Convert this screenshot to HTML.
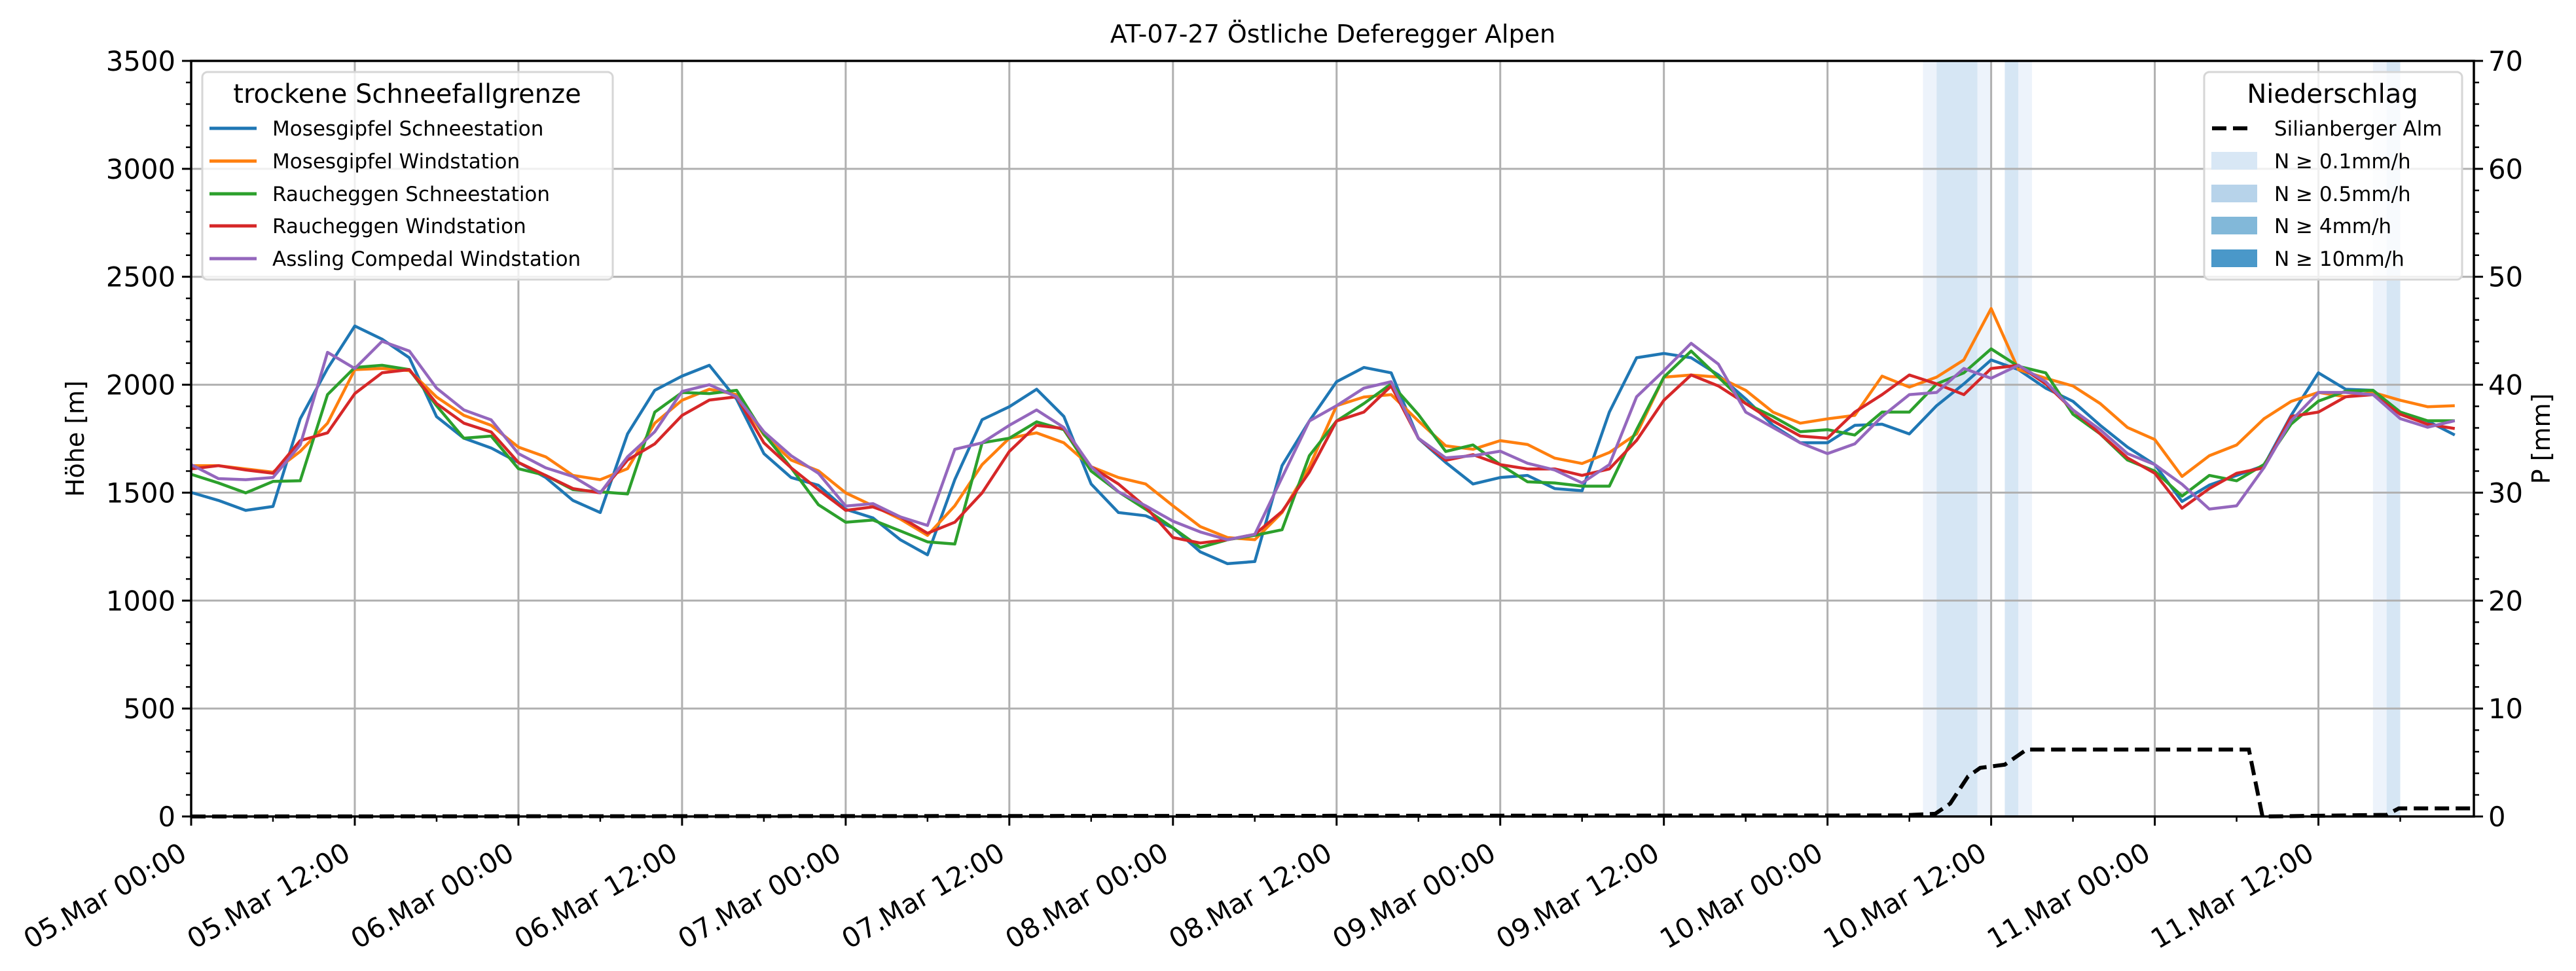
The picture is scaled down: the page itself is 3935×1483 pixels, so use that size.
<!DOCTYPE html>
<html><head><meta charset="utf-8"><style>
html,body{margin:0;padding:0;background:#fff;}
svg{display:block;font-family:"DejaVu Sans","Liberation Sans",sans-serif;}
</style></head><body>
<svg id="chart" width="3935" height="1483" viewBox="0 0 3935 1483" xmlns="http://www.w3.org/2000/svg">
<rect x="0" y="0" width="3935" height="1483" fill="#fff"/>
<g id="bands"></g><g id="grid"></g><g id="series"></g><g id="axes"></g><g id="legends"></g>
</svg>
<script>
// ---- data (2-hourly, hours since 05.Mar 00:00) ----
const hourStep = 2;
const blue   = [1501,1464,1418,1436,1842,2075,2272,2211,2125,1852,1752,1707,1640,1570,1464,1408,1772,1974,2040,2090,1933,
                1681,1570,1534,1423,1383,1282,1212,1560,1838,1898,1979,1853,1540,1408,1393,1337,1226,1171,1181,1625,1832,
                2014,2080,2055,1751,1640,1540,1570,1580,1519,1509,1873,2125,2145,2125,2045,1934,1812,1731,1731,1812,1817,
                1772,1903,2004,2115,2070,1984,1923,1812,1711,1630,1459,1535,1580,1625,1858,2055,1979,1974,1873,1832,1767];
const orange = [1625,1625,1610,1595,1691,1822,2070,2075,2065,1943,1858,1812,1711,1666,1580,1560,1611,1822,1928,1979,1954,
                1767,1651,1601,1499,1439,1378,1302,1439,1630,1752,1777,1731,1620,1570,1540,1439,1343,1292,1282,1408,1620,
                1903,1943,1954,1832,1717,1701,1741,1723,1660,1635,1686,1772,2035,2045,2035,1974,1873,1822,1842,1858,2040,
                1989,2035,2115,2353,2070,2030,1994,1913,1802,1746,1575,1671,1721,1842,1923,1964,1944,1964,1928,1898,1903];
const green  = [1585,1545,1499,1552,1555,1954,2080,2090,2070,1903,1752,1762,1611,1580,1514,1504,1494,1873,1964,1959,1974,
                1772,1615,1444,1363,1373,1323,1272,1262,1731,1752,1828,1792,1600,1504,1423,1337,1246,1282,1302,1328,1671,
                1832,1913,2004,1862,1691,1721,1630,1550,1545,1530,1530,1792,2035,2156,2035,1913,1853,1782,1792,1767,1873,
                1873,2004,2055,2166,2085,2055,1863,1772,1651,1600,1484,1580,1555,1630,1818,1924,1970,1974,1873,1833,1833];
const red    = [1610,1625,1605,1590,1741,1777,1959,2055,2070,1913,1822,1781,1640,1580,1519,1499,1651,1726,1858,1929,1944,
                1731,1615,1514,1418,1434,1388,1312,1363,1499,1691,1812,1797,1620,1540,1434,1292,1267,1282,1307,1413,1595,
                1832,1873,1994,1752,1650,1676,1630,1610,1610,1580,1610,1742,1928,2045,1994,1913,1832,1762,1752,1873,1954,
                2045,2004,1954,2075,2090,2004,1883,1772,1661,1590,1428,1519,1590,1615,1853,1873,1944,1954,1863,1817,1797];
const purple = [1630,1565,1560,1570,1721,2150,2075,2201,2156,1984,1883,1837,1681,1615,1575,1499,1666,1782,1969,2000,1944,
                1782,1671,1590,1438,1449,1388,1348,1701,1731,1812,1883,1802,1620,1504,1439,1368,1318,1282,1307,1570,1832,
                1903,1984,2014,1752,1661,1671,1692,1636,1605,1545,1630,1944,2065,2192,2095,1873,1802,1731,1681,1726,1853,
                1954,1964,2075,2030,2090,2014,1883,1792,1681,1630,1539,1424,1439,1615,1833,1964,1964,1954,1843,1803,1833];
const seriesNames = ["Mosesgipfel Schneestation","Mosesgipfel Windstation","Raucheggen Schneestation","Raucheggen Windstation","Assling Compedal Windstation"];
const precipHours = [0,125.3,127.9,129,130.3,131.2,133,134.6,150.9,151.9,161,161.9,167.4];
const precipVals  = [0,0.1,0.25,1.2,3.7,4.5,4.8,6.2,6.2,0,0.15,0.75,0.75];
const bandStart = [127,128,131,133,134,160,161];
const bandEnd   = [128,131,132,134,135,161,162];
const bandLevel = [0,1,0,1,0,0,1];
const xTickLabels = ["05.Mar 00:00","05.Mar 12:00","06.Mar 00:00","06.Mar 12:00","07.Mar 00:00","07.Mar 12:00","08.Mar 00:00","08.Mar 12:00","09.Mar 00:00","09.Mar 12:00","10.Mar 00:00","10.Mar 12:00","11.Mar 00:00","11.Mar 12:00"];
const yTicks = [0,500,1000,1500,2000,2500,3000,3500];
const pTicks = [0,10,20,30,40,50,60,70];

// ---- geometry ----
const X0=292,X1=3779,Y0=93,Y1=1247,HMAX=167.4,YMAX=3500,PMAX=70;
const xs=h=>X0+(X1-X0)*h/HMAX;
const ys=v=>Y1-(Y1-Y0)*v/YMAX;
const ps=v=>Y1-(Y1-Y0)*v/PMAX;
const NS="http://www.w3.org/2000/svg";
function mk(tag,attrs,parent,txt){const e=document.createElementNS(NS,tag);for(const k in attrs)e.setAttribute(k,attrs[k]);if(txt!==undefined)e.textContent=txt;parent.appendChild(e);return e;}
const G=id=>document.getElementById(id);

// bands
const bandColors=["#edf3fb","#d6e6f4"];
bandStart.forEach((s,i)=>{
  const r=mk('rect',{x:xs(s),y:Y0,width:xs(bandEnd[i])-xs(s),height:Y1-Y0,fill:bandColors[bandLevel[i]]},G('bands'));
  
  
});
// grid
for(let i=0;i<xTickLabels.length;i++){
  const l=mk('line',{x1:xs(i*12),x2:xs(i*12),y1:Y0,y2:Y1,stroke:'#b0b0b0','stroke-width':3},G('grid'));
  
  
}
yTicks.forEach(v=>{
  const l=mk('line',{x1:X0,x2:X1,y1:ys(v),y2:ys(v),stroke:'#b0b0b0','stroke-width':3},G('grid'));
  
  
});
// series
const colors=["#1f77b4","#ff7f0e","#2ca02c","#d62728","#9467bd"];
const allSeries=[blue,orange,green,red,purple];
const seriesKeys=["series-moses-schnee","series-moses-wind","series-rauch-schnee","series-rauch-wind","series-assling-wind"];
allSeries.forEach((arr,si)=>{
  const pts=arr.map((v,i)=>xs(i*hourStep).toFixed(1)+','+ys(v).toFixed(1)).join(' ');
  const p=mk('polyline',{points:pts,fill:'none',stroke:colors[si],'stroke-width':4.5,'stroke-linejoin':'round'},G('series'));
  
  
});
const pp=precipHours.map((h,i)=>xs(h).toFixed(1)+','+ps(precipVals[i]).toFixed(1)).join(' ');
const pl=mk('polyline',{points:pp,fill:'none',stroke:'#000','stroke-width':6,'stroke-dasharray':'22,10'},G('series'));



// axes
const A=G('axes');
mk('rect',{x:X0,y:Y0,width:X1-X0,height:Y1-Y0,fill:'none',stroke:'#000','stroke-width':3.5},A);
yTicks.forEach(v=>{
  mk('line',{x1:X0-14,x2:X0,y1:ys(v),y2:ys(v),stroke:'#000','stroke-width':3},A);
  const t=mk('text',{x:X0-24,y:ys(v)+15,'text-anchor':'end','font-size':41.7},A,String(v));
  
  
});
for(let v=100;v<YMAX;v+=100){ if(v%500) mk('line',{x1:X0-8,x2:X0,y1:ys(v),y2:ys(v),stroke:'#000','stroke-width':2.5},A); }
pTicks.forEach(v=>{
  mk('line',{x1:X1,x2:X1+14,y1:ps(v),y2:ps(v),stroke:'#000','stroke-width':3},A);
  const t=mk('text',{x:X1+22,y:ps(v)+15,'text-anchor':'start','font-size':41.7},A,String(v));
  
  
});
for(let v=2;v<PMAX;v+=2){ if(v%10) mk('line',{x1:X1,x2:X1+8,y1:ps(v),y2:ps(v),stroke:'#000','stroke-width':2.5},A); }
xTickLabels.forEach((lab,i)=>{
  const x=xs(i*12);
  mk('line',{x1:x,x2:x,y1:Y1,y2:Y1+14,stroke:'#000','stroke-width':3},A);
  const t=mk('text',{x:x-4,y:Y1+64,'text-anchor':'end','font-size':41.7,transform:`rotate(-30 ${x-4} ${Y1+64})`},A,lab);
  
  
});
for(let h=6;h<HMAX;h+=12) mk('line',{x1:xs(h),x2:xs(h),y1:Y1,y2:Y1+8,stroke:'#000','stroke-width':2.5},A);
</script>
<svg style="position:absolute;left:0;top:0" width="3935" height="1483" xmlns="http://www.w3.org/2000/svg" font-family="DejaVu Sans, Liberation Sans, sans-serif">
<text x="2036" y="65" text-anchor="middle" font-size="38">AT-07-27 Östliche Deferegger Alpen</text>
<text x="128" y="670" text-anchor="middle" font-size="38" transform="rotate(-90 128 670)">Höhe [m]</text>
<text x="3895" y="670" text-anchor="middle" font-size="38" transform="rotate(-90 3895 670)">P [mm]</text>
<g>
<rect x="309" y="110" width="627" height="317" rx="8" fill="#fff" fill-opacity="0.8" stroke="#d6d6d6" stroke-width="3"/>
<text x="622" y="157" text-anchor="middle" font-size="40">trockene Schneefallgrenze</text>
<line x1="320" x2="392" y1="196" y2="196" stroke="#1f77b4" stroke-width="5"/><text x="416" y="207" font-size="31">Mosesgipfel Schneestation</text>
<line x1="320" x2="392" y1="246" y2="246" stroke="#ff7f0e" stroke-width="5"/><text x="416" y="257" font-size="31">Mosesgipfel Windstation</text>
<line x1="320" x2="392" y1="296" y2="296" stroke="#2ca02c" stroke-width="5"/><text x="416" y="307" font-size="31">Raucheggen Schneestation</text>
<line x1="320" x2="392" y1="345" y2="345" stroke="#d62728" stroke-width="5"/><text x="416" y="356" font-size="31">Raucheggen Windstation</text>
<line x1="320" x2="392" y1="395" y2="395" stroke="#9467bd" stroke-width="5"/><text x="416" y="406" font-size="31">Assling Compedal Windstation</text>
</g>
<g>
<rect x="3367" y="110" width="394" height="317" rx="8" fill="#fff" fill-opacity="0.8" stroke="#d6d6d6" stroke-width="3"/>
<text x="3563" y="157" text-anchor="middle" font-size="40">Niederschlag</text>
<line x1="3379" x2="3437" y1="196" y2="196" stroke="#000" stroke-width="6" stroke-dasharray="22,10"/><text x="3474" y="207" font-size="31">Silianberger Alm</text>
<rect x="3378" y="232" width="70" height="27" fill="#d8e7f5"/><text x="3474" y="257" font-size="31">N ≥ 0.1mm/h</text>
<rect x="3378" y="282" width="70" height="27" fill="#b7d3ea"/><text x="3474" y="307" font-size="31">N ≥ 0.5mm/h</text>
<rect x="3378" y="331" width="70" height="27" fill="#82b8d9"/><text x="3474" y="356" font-size="31">N ≥ 4mm/h</text>
<rect x="3378" y="381" width="70" height="27" fill="#4a98c9"/><text x="3474" y="406" font-size="31">N ≥ 10mm/h</text>
</g>
</svg>
</body></html>
